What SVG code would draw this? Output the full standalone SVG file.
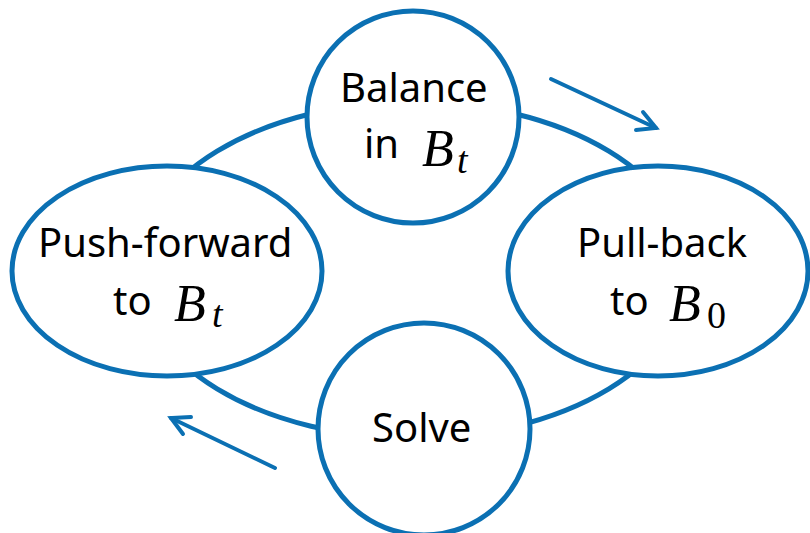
<svg xmlns="http://www.w3.org/2000/svg" width="810" height="533" viewBox="0 0 810 533">
<style>
.ring{fill:none;stroke:#0b70b3;stroke-width:5}
.node{fill:#ffffff;stroke:#0b70b3;stroke-width:5}
.lbl{font-family:"Noto Sans","Liberation Sans",sans-serif;font-size:40px;fill:#000}
.math{font-family:"Liberation Serif","DejaVu Serif",serif;font-style:italic;font-size:52px;fill:#000}
.sub{font-family:"Liberation Serif","DejaVu Serif",serif;font-style:italic;font-size:38px;fill:#000}
.subn{font-family:"Liberation Serif","DejaVu Serif",serif;font-size:38px;fill:#000}
.arr{fill:none;stroke:#0b70b3;stroke-width:4;stroke-linecap:round;stroke-linejoin:miter}
</style>
<rect width="810" height="533" fill="#ffffff"/>
<g id="connectors">
<ellipse class="ring" cx="413" cy="270" rx="277" ry="168"/>
<polyline class="arr" points="551,79 656,128"/>
<polyline class="arr" points="643,112 656,128 636,130"/>
<polyline class="arr" points="275,468 171,418"/>
<polyline class="arr" points="191,417 171,418 183,434"/>
</g>
<g id="balance">
<circle class="node" cx="413" cy="117" r="106"/>
<text class="lbl" x="340" y="102">Balance</text>
<text class="lbl" x="364" y="158">in</text>
<text class="math" x="422" y="166">B</text>
<text class="sub" x="457" y="173">t</text>
</g>
<g id="pullback">
<ellipse class="node" cx="658" cy="271" rx="150" ry="105"/>
<text class="lbl" x="577" y="257">Pull-back</text>
<text class="lbl" x="610" y="315">to</text>
<text class="math" x="669" y="321">B</text>
<text class="subn" x="707" y="328">0</text>
</g>
<g id="solve">
<circle class="node" cx="424" cy="429" r="106"/>
<text class="lbl" x="372" y="442">Solve</text>
</g>
<g id="pushforward">
<ellipse class="node" cx="167" cy="271" rx="155" ry="105"/>
<text class="lbl" x="38" y="257">Push-forward</text>
<text class="lbl" x="113" y="315">to</text>
<text class="math" x="174" y="321">B</text>
<text class="sub" x="212" y="327">t</text>
</g>
</svg>
